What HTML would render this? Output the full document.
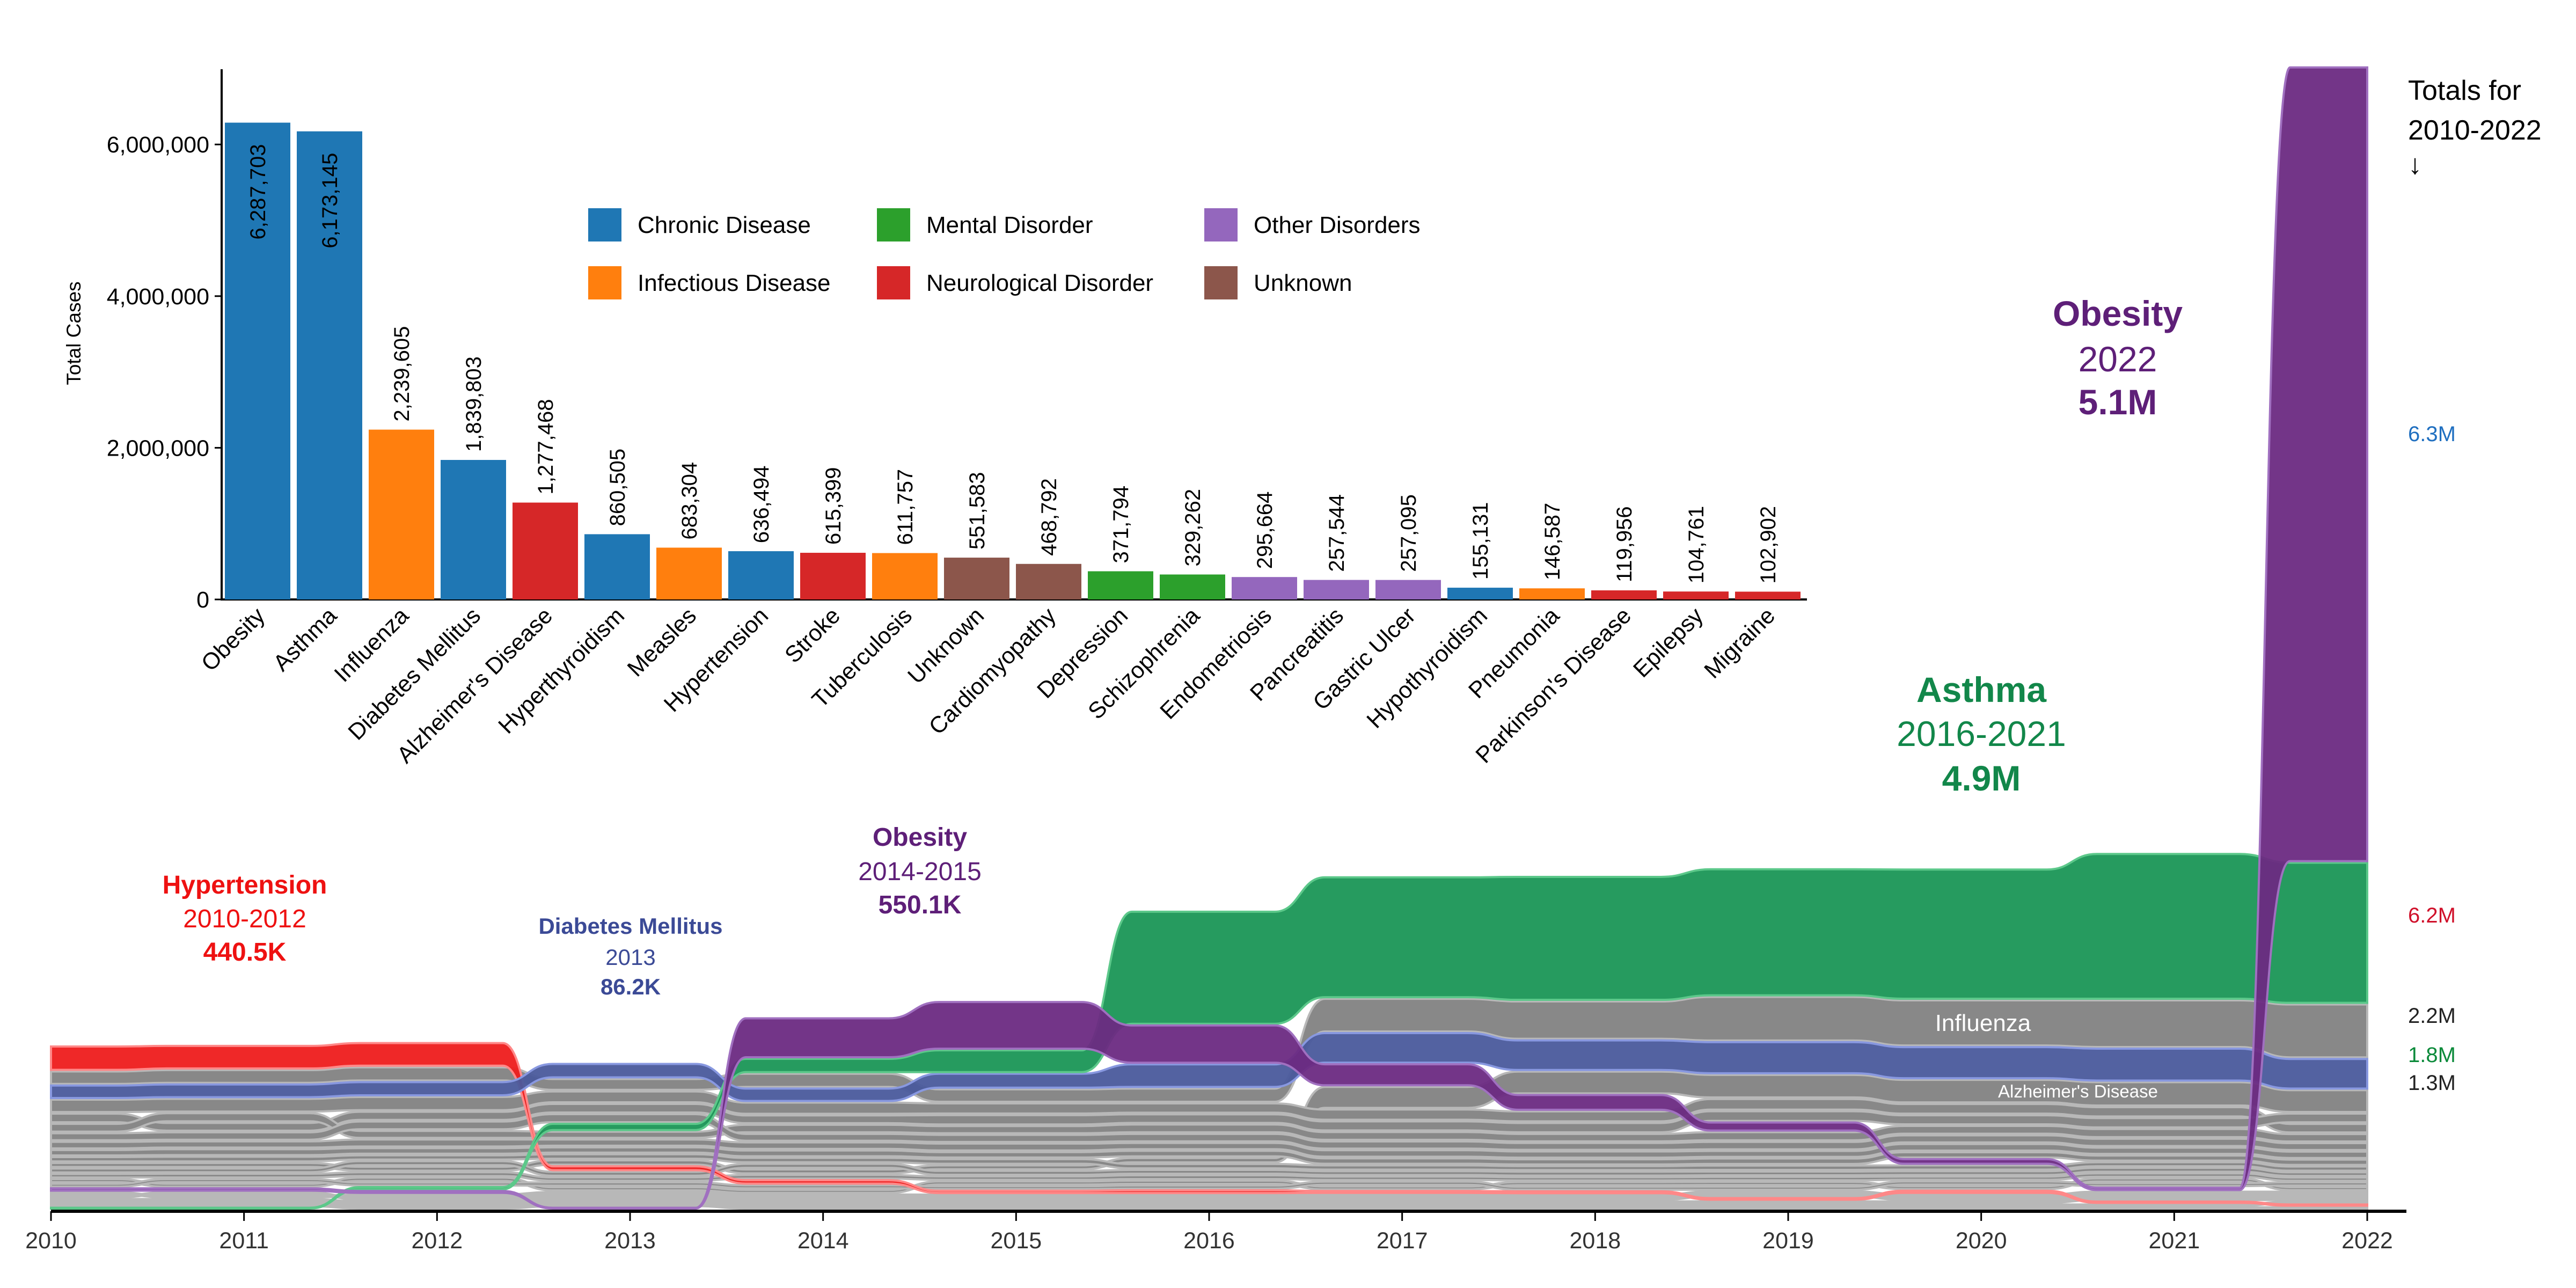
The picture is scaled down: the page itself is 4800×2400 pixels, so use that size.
<!DOCTYPE html>
<html><head><meta charset="utf-8"><style>
html,body{margin:0;padding:0;background:#fff;}
svg{display:block;font-family:"Liberation Sans",Arial,sans-serif;}
</style></head><body>
<svg id="chart" width="4800" height="2400" viewBox="0 0 4800 2400" xmlns="http://www.w3.org/2000/svg">
<rect width="4800" height="2400" fill="#fff"/>
<g id="bump"></g>
<g id="bars"></g>
<g id="notes">
<text x="456" y="1665" text-anchor="middle" font-size="48" font-weight="bold" fill="#ee1111">Hypertension</text>
<text x="456" y="1728" text-anchor="middle" font-size="48" fill="#ee1111">2010-2012</text>
<text x="456" y="1790" text-anchor="middle" font-size="48" font-weight="bold" fill="#ee1111">440.5K</text>
<text x="1175" y="1740" text-anchor="middle" font-size="42" font-weight="bold" fill="#3b4a96">Diabetes Mellitus</text>
<text x="1175" y="1798" text-anchor="middle" font-size="42" fill="#3b4a96">2013</text>
<text x="1175" y="1853" text-anchor="middle" font-size="42" font-weight="bold" fill="#3b4a96">86.2K</text>
<text x="1714" y="1576" text-anchor="middle" font-size="48" font-weight="bold" fill="#5e1f78">Obesity</text>
<text x="1714" y="1640" text-anchor="middle" font-size="48" fill="#5e1f78">2014-2015</text>
<text x="1714" y="1702" text-anchor="middle" font-size="48" font-weight="bold" fill="#5e1f78">550.1K</text>
<text x="3692" y="1308" text-anchor="middle" font-size="66" font-weight="bold" fill="#12874a">Asthma</text>
<text x="3692" y="1390" text-anchor="middle" font-size="66" fill="#12874a">2016-2021</text>
<text x="3692" y="1473" text-anchor="middle" font-size="66" font-weight="bold" fill="#12874a">4.9M</text>
<text x="3946" y="607" text-anchor="middle" font-size="66" font-weight="bold" fill="#5e1f78">Obesity</text>
<text x="3946" y="692" text-anchor="middle" font-size="66" fill="#5e1f78">2022</text>
<text x="3946" y="772" text-anchor="middle" font-size="66" font-weight="bold" fill="#5e1f78">5.1M</text>
<text x="4487" y="186" font-size="52" fill="#000">Totals for</text>
<text x="4487" y="260" font-size="52" fill="#000">2010-2022</text>
<text x="4487" y="324" font-size="52" fill="#000">↓</text>
<text x="4487" y="822" font-size="40" fill="#1f6fc0">6.3M</text>
<text x="4487" y="1719" font-size="40" fill="#d0102a">6.2M</text>
<text x="4487" y="1906" font-size="40" fill="#222">2.2M</text>
<text x="4487" y="1979" font-size="40" fill="#0b8a3a">1.8M</text>
<text x="4487" y="2031" font-size="40" fill="#222">1.3M</text>
</g>
</svg>
<script>
const NS = "http://www.w3.org/2000/svg";
// ---------- bar chart data ----------
const barNames = ["Obesity","Asthma","Influenza","Diabetes Mellitus","Alzheimer's Disease","Hyperthyroidism","Measles","Hypertension","Stroke","Tuberculosis","Unknown","Cardiomyopathy","Depression","Schizophrenia","Endometriosis","Pancreatitis","Gastric Ulcer","Hypothyroidism","Pneumonia","Parkinson's Disease","Epilepsy","Migraine"];
const barValues = [6287703,6173145,2239605,1839803,1277468,860505,683304,636494,615399,611757,551583,468792,371794,329262,295664,257544,257095,155131,146587,119956,104761,102902];
const barCategory = ["Chronic Disease","Chronic Disease","Infectious Disease","Chronic Disease","Neurological Disorder","Chronic Disease","Infectious Disease","Chronic Disease","Neurological Disorder","Infectious Disease","Unknown","Unknown","Mental Disorder","Mental Disorder","Other Disorders","Other Disorders","Other Disorders","Chronic Disease","Infectious Disease","Neurological Disorder","Neurological Disorder","Neurological Disorder"];
const legendNames = ["Chronic Disease","Infectious Disease","Mental Disorder","Neurological Disorder","Other Disorders","Unknown"];
const legendColors = ["#1f77b4","#ff7f0e","#2ca02c","#d62728","#9467bd","#8c564b"];
const yTickValues = [0,2000000,4000000,6000000];

// ---------- bump chart data (thousands per year) ----------
const years = [2010,2011,2012,2013,2014,2015,2016,2017,2018,2019,2020,2021,2022];
const bumpNames = ["Obesity","Asthma","Influenza","Diabetes Mellitus","Alzheimer's Disease","Hypertension","Hyperthyroidism","Measles","Stroke","Tuberculosis","Unknown","Cardiomyopathy","Depression","Schizophrenia","Endometriosis","Pancreatitis","Gastric Ulcer","Hypothyroidism","Pneumonia","Parkinson's Disease","Epilepsy","Migraine"];
const sObesity = [15,15,12,5,250,300,240,135,95,52,30,15,5100];
const sAsthma = [5,5,15,40,85,140,720,770,790,810,830,930,900];
const sInfluenza = [80,82,85,70,85,80,85,210,240,280,290,300,340];
const sDiabetes = [80,82,85,86,80,90,145,190,190,200,200,205,190];
const sAlzheimers = [25,25,25,28,25,25,28,135,140,145,145,150,140];
const sHypertension = [150,145,145,25,22,15,18,12,12,10,14,8,8];
const sHyperthyroidism = [80,82,85,70,72,65,60,66,64,68,62,60,55];
const sMeasles = [55,50,52,55,50,60,55,58,60,62,58,60,56];
const sStroke = [50,52,45,40,48,46,50,50,48,52,50,52,48];
const sTuberculosis = [45,48,50,52,44,46,48,46,44,48,46,47,44];
const sUnknown = [42,40,45,40,42,44,40,42,40,38,42,40,41];
const sCardiomyopathy = [35,38,36,34,37,35,36,35,33,35,34,33,34];
const sDepression = [28,30,27,29,28,30,28,27,26,28,27,26,27];
const sSchizophrenia = [25,24,26,25,26,25,24,24,25,24,24,25,23];
const sEndometriosis = [22,23,24,22,23,22,24,22,21,22,21,22,21];
const sPancreatitis = [20,19,21,20,19,20,21,19,20,20,19,20,19];
const sGastric = [19,20,19,21,20,19,20,21,19,20,20,19,20];
const sHypothyroidism = [12,11,12,13,12,11,12,12,11,12,13,12,12];
const sPneumonia = [11,12,11,11,12,11,11,12,11,11,11,12,11];
const sParkinsons = [9,9,10,9,9,10,9,9,9,10,9,9,9];
const sEpilepsy = [8,8,8,9,8,8,8,8,8,8,8,8,9];
const sMigraine = [8,8,8,8,8,8,8,8,8,8,8,8,8];
const bumpSeries = [sObesity,sAsthma,sInfluenza,sDiabetes,sAlzheimers,sHypertension,sHyperthyroidism,sMeasles,sStroke,sTuberculosis,sUnknown,sCardiomyopathy,sDepression,sSchizophrenia,sEndometriosis,sPancreatitis,sGastric,sHypothyroidism,sPneumonia,sParkinsons,sEpilepsy,sMigraine];

function mk(tag, attrs, parent){const e=document.createElementNS(NS,tag);for(const k in attrs)e.setAttribute(k,attrs[k]);parent.appendChild(e);return e;}

// ---------- bar chart ----------
const bars = document.getElementById("bars");
const by = v => 1117 - v * 141.3 / 1e6;
const slot = 134, bx0 = 419, bw = 122;
const bxC = i => bx0 + i*slot + bw/2;
let ax = mk("line",{x1:413,y1:129,x2:413,y2:1119,stroke:"#000","stroke-width":4},bars);


let bxl = mk("line",{x1:411,y1:1117,x2:3367,y2:1117,stroke:"#000","stroke-width":4},bars);


yTickValues.forEach(v=>{
  const t = mk("line",{x1:400,y1:by(v),x2:413,y2:by(v),stroke:"#000","stroke-width":3},bars);
  
  
  const l = mk("text",{x:390,y:by(v)+15,"text-anchor":"end","font-size":43,fill:"#000"},bars);
  l.textContent = v.toLocaleString("en-US");
  
  
});
let yt = mk("text",{x:0,y:0,"text-anchor":"middle","font-size":37,fill:"#000",transform:"translate(150,621) rotate(-90)"},bars);
yt.textContent="Total Cases";


barValues.forEach((v,i)=>{
  const col = legendColors[legendNames.indexOf(barCategory[i])];
  const r = mk("rect",{x:bx0+i*slot,y:by(v),width:bw,height:1117-by(v),fill:col},bars);
  
  
  const inside = v > 5e6;
  const ty = inside ? by(v)+40 : by(v)-15;
  const lab = mk("text",{x:0,y:0,"text-anchor":inside?"end":"start","font-size":40,fill:"#000",transform:`translate(${bxC(i)+14},${ty}) rotate(-90)`},bars);
  lab.textContent = v.toLocaleString("en-US");
  
  
  const xl = mk("text",{x:0,y:0,"text-anchor":"end","font-size":43,fill:"#000",transform:`translate(${bxC(i)+16},${1150}) rotate(-45)`},bars);
  xl.textContent = barNames[i];
  
  
});
const legPos = [[1096,419],[1096,527],[1634,419],[1634,527],[2244,419],[2244,527]];
legendNames.forEach((n,i)=>{
  const [lx,ly] = legPos[i];
  const g = mk("g",{},bars);
  
  
  mk("rect",{x:lx,y:ly-31,width:62,height:62,fill:legendColors[i]},g);
  const t = mk("text",{x:lx+92,y:ly+15,"font-size":44,fill:"#000"},g);
  t.textContent = n;
});

// ---------- bump chart ----------
const bump = document.getElementById("bump");
const x0 = 95, x1 = 4411, base = 2252, k = 0.29, gap = 3;
const xs = i => x0 + (x1-x0)*i/(years.length-1);
const colorMap = {"Obesity":"#6b2a82","Asthma":"#1a9656","Diabetes Mellitus":"#4a5a9c","Hypertension":"#ee1c1c"};
const strokeMap = {"Obesity":"#a070c0","Asthma":"#5cc88a","Diabetes Mellitus":"#8898e0","Hypertension":"#ff8888"};
const tops = bumpNames.map(()=>[]), bots = bumpNames.map(()=>[]);
years.forEach((yr,j)=>{
  const order = bumpNames.map((_,i)=>i).sort((a,b)=>bumpSeries[a][j]-bumpSeries[b][j] || b-a);
  let y = base;
  order.forEach(i=>{
    const h = bumpSeries[i][j]*k;
    bots[i][j]=y; tops[i][j]=y-h; y = y-h-gap;
  });
});
const tA = 0.34, tM = 0.47, tB = 0.6;
function edge(arr, rev){
  const n=arr.length; let d="";
  const w=(x1-x0)/(n-1);
  if(!rev){
    d+=`M${xs(0)},${arr[0]}`;
    for(let j=0;j<n-1;j++){
      const a=xs(j)+tA*w, m=xs(j)+tM*w, b=xs(j)+tB*w;
      d+=` L${a},${arr[j]} C${m},${arr[j]} ${m},${arr[j+1]} ${b},${arr[j+1]} L${xs(j+1)},${arr[j+1]}`;
    }
  } else {
    d+=` L${xs(n-1)},${arr[n-1]}`;
    for(let j=n-1;j>0;j--){
      const a=xs(j-1)+tA*w, m=xs(j-1)+tM*w, b=xs(j-1)+tB*w;
      d+=` L${b},${arr[j]} C${m},${arr[j]} ${m},${arr[j-1]} ${a},${arr[j-1]} L${xs(j-1)},${arr[j-1]}`;
    }
    d+=" Z";
  }
  return d;
}
const drawOrder = bumpNames.map((_,i)=>i).filter(i=>!colorMap[bumpNames[i]]).concat([5,3,1,0]);
drawOrder.forEach(i=>{
  const nm = bumpNames[i];
  const p = mk("path",{d:edge(tops[i],false)+edge(bots[i],true),fill:colorMap[nm]||"#888","fill-opacity":colorMap[nm]?0.95:1,stroke:strokeMap[nm]||"#b8b8b8","stroke-width":4},bump);
  
  
});
const infl = mk("text",{x:3695,y:(tops[2][10]+bots[2][10])/2+15,"text-anchor":"middle","font-size":44,fill:"#fff"},bump);
infl.textContent="Influenza";


const alz = mk("text",{x:3872,y:(tops[4][10]+bots[4][10])/2+12,"text-anchor":"middle","font-size":33,fill:"#fff"},bump);
alz.textContent="Alzheimer's Disease";


const xa = mk("line",{x1:x0,y1:2257,x2:4484,y2:2257,stroke:"#000","stroke-width":6},bump);


years.forEach((yr,j)=>{
  const t = mk("line",{x1:xs(j),y1:2257,x2:xs(j),y2:2275,stroke:"#000","stroke-width":3},bump);
  
  
  const l = mk("text",{x:xs(j),y:2326,"text-anchor":"middle","font-size":43,fill:"#333"},bump);
  l.textContent = yr;
  
  
});
</script>
</body></html>
